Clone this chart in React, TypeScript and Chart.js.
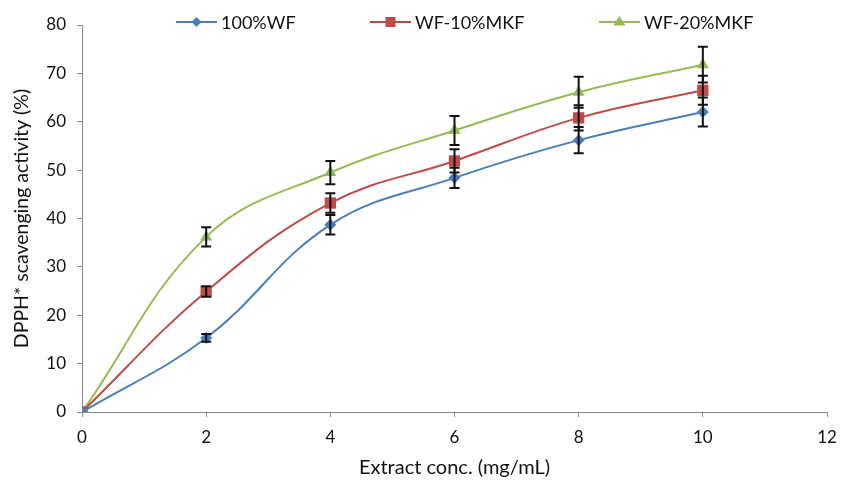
import React, { useEffect, useRef } from "react";
import { Chart, registerables } from "chart.js";
Chart.register(...registerables);

const concentrations = [0, 2, 4, 6, 8, 10];
const seriesNames = ["100%WF", "WF-10%MKF", "WF-20%MKF"];
const wf100 = [0, 15.3, 38.7, 48.4, 56.2, 62.0];
const wf100Err = [0, 0.8, 2.0, 2.1, 2.7, 3.0];
const mkf10 = [0, 24.9, 43.2, 51.9, 60.8, 66.5];
const mkf10Err = [0, 1.1, 2.0, 2.4, 2.6, 3.0];
const mkf20 = [0, 36.2, 49.5, 58.2, 66.1, 71.8];
const mkf20Err = [0, 2.0, 2.4, 3.0, 3.2, 3.7];
const colors = ["#4A7EBB", "#BE4B48", "#98B954"];
const pointStyles = ["rectRot", "rect", "triangle"];
const pointRadii = [6, 8, 7];
const FONT = "Lato, 'Open Sans', sans-serif";

const errorBarPlugin = {
  id: "errorBars",
  afterDatasetsDraw(chart: any) {
    const ctx = chart.ctx;
    const xs = chart.scales.x;
    const ys = chart.scales.y;
    ctx.save();
    ctx.strokeStyle = "#111";
    ctx.lineWidth = 2;
    chart.data.datasets.forEach((ds: any) => {
      const errs = ds.errors as number[];
      ds.data.forEach((p: any, i: number) => {
        const e = errs[i];
        if (!e) return;
        const x = xs.getPixelForValue(p.x);
        const yt = ys.getPixelForValue(p.y + e);
        const yb = ys.getPixelForValue(p.y - e);
        ctx.beginPath();
        ctx.moveTo(x, yt);
        ctx.lineTo(x, yb);
        ctx.moveTo(x - 5, yt);
        ctx.lineTo(x + 5, yt);
        ctx.moveTo(x - 5, yb);
        ctx.lineTo(x + 5, yb);
        ctx.stroke();
      });
    });
    ctx.restore();
  },
};

const legendPositions = [176, 370, 599];

const legendPlugin = {
  id: "customLegend",
  afterDraw(chart: any) {
    const ctx = chart.ctx;
    ctx.save();
    const y = 22;
    chart.data.datasets.forEach((ds: any, i: number) => {
      const x0 = legendPositions[i];
      ctx.strokeStyle = ds.borderColor;
      ctx.lineWidth = 2;
      ctx.beginPath();
      ctx.moveTo(x0, y);
      ctx.lineTo(x0 + 41, y);
      ctx.stroke();
      ctx.fillStyle = ds.backgroundColor;
      const cx = x0 + 20.5;
      ctx.beginPath();
      if (pointStyles[i] === "rectRot") {
        const r = 5;
        ctx.moveTo(cx, y - r);
        ctx.lineTo(cx + r, y);
        ctx.lineTo(cx, y + r);
        ctx.lineTo(cx - r, y);
      } else if (pointStyles[i] === "rect") {
        const r = 5;
        ctx.rect(cx - r, y - r, 2 * r, 2 * r);
      } else {
        const r = 6;
        ctx.moveTo(cx, y - r);
        ctx.lineTo(cx + r, y + r * 0.6);
        ctx.lineTo(cx - r, y + r * 0.6);
      }
      ctx.closePath();
      ctx.fill();
      ctx.fillStyle = "#111";
      ctx.font = `18px ${FONT}`;
      ctx.textBaseline = "middle";
      ctx.fillText(ds.label, x0 + 45, y + 1);
    });
    ctx.restore();
  },
};

export default function App() {
  const ref = useRef<HTMLCanvasElement>(null);
  useEffect(() => {
    const mk = (vals: number[]) => concentrations.map((x, i) => ({ x, y: vals[i] }));
    const values = [wf100, mkf10, mkf20];
    const errs = [wf100Err, mkf10Err, mkf20Err];
    const chart = new Chart(ref.current as HTMLCanvasElement, {
      type: "line",
      data: {
        datasets: seriesNames.map((name, i) => ({
          label: name,
          data: mk(values[i]),
          errors: errs[i],
          borderColor: colors[i],
          backgroundColor: colors[i],
          borderWidth: 2,
          pointStyle: pointStyles[i],
          pointRadius: pointRadii[i],
          pointBorderWidth: 0,
          tension: 0.4,
          fill: false,
        })) as any,
      },
      options: {
        animation: false,
        responsive: false,
        maintainAspectRatio: false,
        layout: { padding: { top: 25, right: 4, left: 0, bottom: 0 } },
        plugins: { legend: { display: false }, tooltip: { enabled: false } },
        scales: {
          x: {
            type: "linear",
            min: 0,
            max: 12,
            ticks: { stepSize: 2, color: "#111", font: { size: 17, family: FONT }, padding: 10 },
            grid: { drawOnChartArea: false, drawTicks: true, tickLength: 5, color: "#888" },
            border: { color: "#888", width: 1 },
            title: { display: true, text: "Extract conc. (mg/mL)", color: "#111", font: { size: 20, family: FONT }, padding: { top: 4, bottom: 2 } },
            afterFit: (s: any) => { s.height = 70; s.paddingRight = 14; },
          },
          y: {
            min: 0,
            max: 80,
            ticks: { stepSize: 10, color: "#111", font: { size: 17, family: FONT }, padding: 11 },
            grid: { drawOnChartArea: false, drawTicks: true, tickLength: 5, color: "#888" },
            border: { color: "#888", width: 1 },
            title: { display: true, text: "DPPH* scavenging activity (%)", color: "#111", font: { size: 19.5, family: FONT }, padding: { top: 10, bottom: 4 } },
            afterFit: (s: any) => { s.width = 82; },
          },
        },
      },
      plugins: [errorBarPlugin, legendPlugin],
    });
    return () => chart.destroy();
  }, []);
  return (
    <div style={{ position: "absolute", left: 0, top: 0, width: 841, height: 482, background: "#fff" }}>
      <canvas ref={ref} width={841} height={482} />
    </div>
  );
}
